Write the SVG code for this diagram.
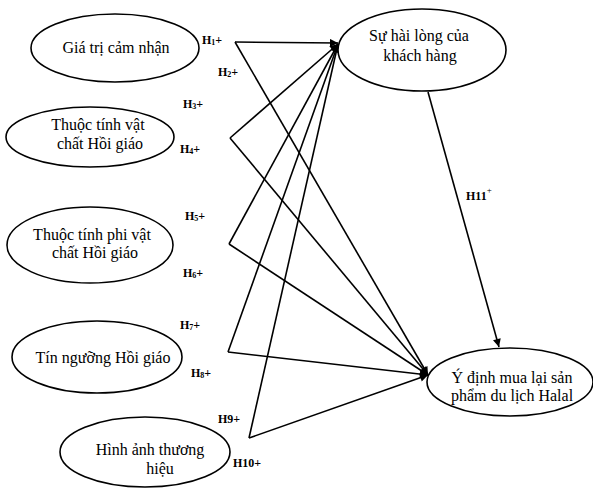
<svg xmlns="http://www.w3.org/2000/svg" width="593" height="489" viewBox="0 0 593 489">
<defs>
<style>
.node ellipse{fill:#fff;stroke:#000;stroke-width:1.6}
.node text{font-family:'Liberation Serif','DejaVu Serif',serif;font-size:16px;fill:#000;text-anchor:middle}
.conn line{stroke:#000;stroke-width:1.6;fill:none}
.lbl{font-family:'Liberation Serif','DejaVu Serif',serif;font-size:12px;font-weight:bold;fill:#000}
.sub{font-size:8px}
</style>
<marker id="arr" viewBox="0 0 10 10" refX="10" refY="5" markerWidth="10" markerHeight="8" markerUnits="userSpaceOnUse" orient="auto">
<path d="M0,0 L10,5 L0,10 z" fill="#000"/>
</marker>
</defs>
<rect width="593" height="489" fill="#fff"/>
<g class="conn">
<line x1="235" y1="42" x2="338" y2="43" marker-end="url(#arr)"/>
<line x1="235" y1="42" x2="428" y2="375" marker-end="url(#arr)"/>
<line x1="230" y1="138" x2="338" y2="44" marker-end="url(#arr)"/>
<line x1="230" y1="138" x2="428" y2="375" marker-end="url(#arr)"/>
<line x1="229" y1="244" x2="338" y2="44" marker-end="url(#arr)"/>
<line x1="229" y1="244" x2="428" y2="375" marker-end="url(#arr)"/>
<line x1="228" y1="352" x2="338" y2="44" marker-end="url(#arr)"/>
<line x1="228" y1="352" x2="428" y2="375" marker-end="url(#arr)"/>
<line x1="249" y1="438" x2="338" y2="44" marker-end="url(#arr)"/>
<line x1="249" y1="438" x2="428" y2="375" marker-end="url(#arr)"/>
<line x1="428" y1="92" x2="499" y2="347" marker-end="url(#arr)"/>
</g>
<g id="n1" class="node"><ellipse cx="115" cy="48" rx="84" ry="34"/><text x="116" y="53">Giá trị cảm nhận</text></g>
<g id="n2" class="node"><ellipse cx="90" cy="137" rx="84" ry="30"/><text x="98" y="130">Thuộc tính vật</text><text x="100" y="149">chất Hồi giáo</text></g>
<g id="n3" class="node"><ellipse cx="90" cy="245" rx="83" ry="38"/><text x="92" y="240">Thuộc tính phi vật</text><text x="95" y="258">chất Hồi giáo</text></g>
<g id="n4" class="node"><ellipse cx="97" cy="357" rx="85" ry="36"/><text x="103" y="363">Tín ngưỡng Hồi giáo</text></g>
<g id="n5" class="node"><ellipse cx="145" cy="452" rx="85" ry="35"/><text x="150" y="455">Hình ảnh thương</text><text x="160" y="474">hiệu</text></g>
<g id="n6" class="node"><ellipse cx="422" cy="50" rx="84" ry="41"/><text x="419" y="41">Sự hài lòng của</text><text x="420" y="61">khách hàng</text></g>
<g id="n7" class="node"><ellipse cx="510" cy="382" rx="83" ry="34"/><text x="512" y="383">Ý định mua lại sản</text><text x="512" y="401">phẩm du lịch Halal</text></g>
<g id="labels">
<text class="lbl" x="202" y="44">H<tspan class="sub" dy="1">1</tspan><tspan dy="-1">+</tspan></text>
<text class="lbl" x="218" y="76">H<tspan class="sub" dy="1">2</tspan><tspan dy="-1">+</tspan></text>
<text class="lbl" x="183" y="108">H<tspan class="sub" dy="1">3</tspan><tspan dy="-1">+</tspan></text>
<text class="lbl" x="180" y="153">H<tspan class="sub" dy="1">4</tspan><tspan dy="-1">+</tspan></text>
<text class="lbl" x="185" y="220">H<tspan class="sub" dy="1">5</tspan><tspan dy="-1">+</tspan></text>
<text class="lbl" x="183" y="277">H<tspan class="sub" dy="1">6</tspan><tspan dy="-1">+</tspan></text>
<text class="lbl" x="180" y="329">H<tspan class="sub" dy="1">7</tspan><tspan dy="-1">+</tspan></text>
<text class="lbl" x="191" y="377">H<tspan class="sub" dy="1">8</tspan><tspan dy="-1">+</tspan></text>
<text class="lbl" x="218" y="423">H9+</text>
<text class="lbl" x="233" y="467">H10+</text>
<text class="lbl" x="466" y="200">H11<tspan font-size="9px" font-weight="normal" dy="-7">+</tspan></text>
</g>
</svg>
